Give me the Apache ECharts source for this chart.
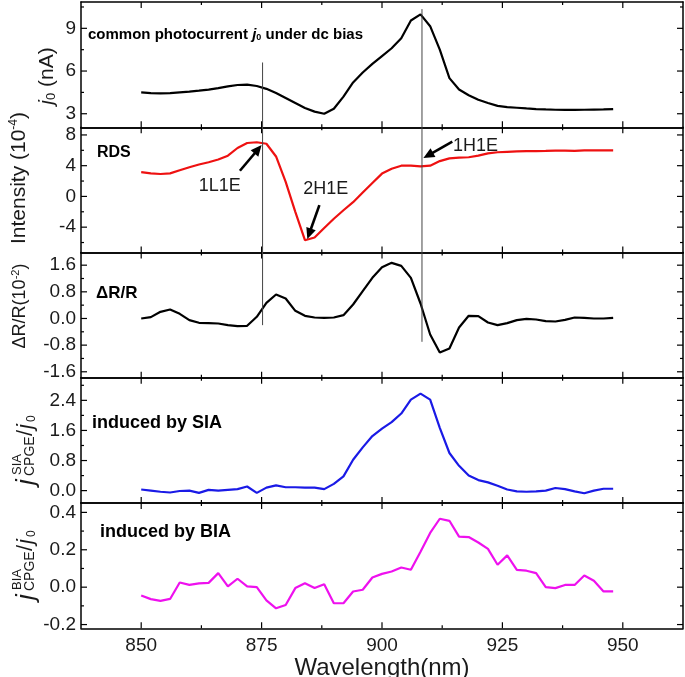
<!DOCTYPE html>
<html><head><meta charset="utf-8">
<script src="https://cdn.jsdelivr.net/npm/echarts@6/dist/echarts.min.js"></script>
<style>html,body{margin:0;padding:0;background:#fff}#c{width:685px;height:677px}</style>
</head><body><div id="c"></div>
<script>
// ---------------- data ----------------
const wavelength = [850,852,854,856,858,860,862,864,866,868,870,872,874,876,878,880,882,884,886,888,
  890,892,894,896,898,900,902,904,906,908,910,912,914,916,918,920,922,924,926,928,
  930,932,934,936,938,940,942,944,946,948];
const j0 = [4.5,4.45,4.43,4.45,4.5,4.55,4.62,4.7,4.8,4.92,5.02,5.05,4.95,4.75,4.45,4.1,3.75,3.4,3.15,3.0,
  3.35,4.2,5.2,5.9,6.5,7.05,7.6,8.3,9.55,9.98,9.15,7.5,5.5,4.7,4.3,3.98,3.75,3.55,3.47,3.42,
  3.37,3.33,3.3,3.28,3.27,3.27,3.28,3.29,3.3,3.33];
const rds = [3.15,3.0,2.92,3.0,3.4,3.8,4.15,4.45,4.8,5.3,6.3,6.95,7.05,6.85,5.2,1.9,-2.0,-5.7,-5.35,-4.1,
  -2.9,-1.8,-0.75,0.5,1.75,2.97,3.6,4.0,4.0,3.9,4.0,4.6,4.95,5.05,5.1,5.3,5.6,5.75,5.8,5.85,
  5.9,5.9,5.92,5.95,5.95,5.93,6.0,6.0,6.0,5.98];
const deltaRR = [0.0,0.04,0.2,0.27,0.14,-0.05,-0.13,-0.14,-0.15,-0.2,-0.23,-0.22,0.05,0.47,0.72,0.6,0.23,0.08,0.03,0.02,
  0.03,0.1,0.42,0.82,1.22,1.54,1.67,1.58,1.22,0.45,-0.48,-1.02,-0.9,-0.27,0.08,0.07,-0.12,-0.2,-0.14,-0.05,
  -0.01,-0.03,-0.08,-0.09,-0.04,0.03,0.02,0.0,0.0,0.02];
const sia = [0.03,0.0,-0.03,-0.05,-0.01,0.0,-0.06,0.02,0.0,0.02,0.04,0.11,-0.06,0.08,0.14,0.09,0.09,0.08,0.08,0.04,
  0.18,0.38,0.82,1.15,1.45,1.65,1.82,2.05,2.42,2.58,2.42,1.67,1.0,0.66,0.4,0.28,0.22,0.13,0.03,-0.02,
  -0.03,-0.02,0.0,0.07,0.04,-0.02,-0.07,0.0,0.05,0.05];
const bia = [-0.045,-0.064,-0.073,-0.063,0.025,0.012,0.02,0.023,0.075,0.004,0.045,0.004,0.0,-0.071,-0.113,-0.095,-0.005,0.021,-0.005,0.016,
  -0.086,-0.086,-0.023,-0.014,0.052,0.071,0.084,0.105,0.093,0.19,0.29,0.366,0.355,0.27,0.268,0.239,0.205,0.12,0.17,0.093,
  0.088,0.075,0.0,-0.005,0.012,0.012,0.062,0.034,-0.023,-0.023];

const xTicks = [850,875,900,925,950];
const xMinorTicks = [862.5,887.5,912.5,937.5];
const yTicksJ0 = [3,6,9], yMinorJ0 = [4.5,7.5,10.5];
const yTicksRDS = [-4,0,4,8], yMinorRDS = [-6,-2,2,6];
const yTicksDRR = [-1.6,-0.8,0,0.8,1.6], yMinorDRR = [-1.2,-0.4,0.4,1.2];
const yTicksSIA = [0,0.8,1.6,2.4], yMinorSIA = [0.4,1.2,2.0,2.8];
const yTicksBIA = [-0.2,0,0.2,0.4], yMinorBIA = [-0.1,0.1,0.3];

// vertical guide lines (nm) and annotation anchors (data coords)
const guideLines = [875.2, 908.3];
const arrowPairs = [[[870.5,3.34],[875.0,6.68]], [[887.0,-1.14],[884.5,-5.54]], [[914.6,7.12],[908.6,5.0]]];
const peakLabels = ['1L1E','2H1E','1H1E'];
const peakLabelAt = [[866.3,1.3],[888.3,1.0],[919.4,6.55]];

// ---------------- layout ----------------
const FONT = "'Liberation Sans', Arial, Helvetica, sans-serif";
const X_MIN = 837.5, X_MAX = 962.5;
const GL = 81, GW = 602, GT = 2, GH = 125.26;
const panels = [
  {data:j0, color:'#000000', range:[2.05,10.85], ticks:yTicksJ0, minor:yMinorJ0, dec:0},
  {data:rds, color:'#ee1111', range:[-7.3,9.0], ticks:yTicksRDS, minor:yMinorRDS, dec:0},
  {data:deltaRR, color:'#000000', range:[-1.78,1.98], ticks:yTicksDRR, minor:yMinorDRR, dec:1},
  {data:sia, color:'#1a1ae6', range:[-0.33,3.0], ticks:yTicksSIA, minor:yMinorSIA, dec:1},
  {data:bia, color:'#ee11ee', range:[-0.22,0.45], ticks:yTicksBIA, minor:yMinorBIA, dec:1}
];

const grid = [], xAxis = [], yAxis = [], series = [];
const axLine = () => ({show:true, onZero:false, lineStyle:{color:'#000', width:1.5}});
panels.forEach((p, i) => {
  grid.push({left:GL, width:GW, top:GT + i*GH, height:GH, show:false, containLabel:false, outerBoundsMode:'none'});
  const last = i === panels.length - 1;
  const mainX = xAxis.length;
  xAxis.push({gridIndex:i, type:'value', min:X_MIN, max:X_MAX, position:'bottom',
    axisLine:axLine(), splitLine:{show:false}, axisTick:{show:false},
    axisLabel:{show:last, customValues:xTicks, fontFamily:FONT, fontSize:19, color:'#1a1a1a', margin:8},
    name: last ? 'Wavelength(nm)' : '', nameLocation:'middle', nameGap:24,
    nameTextStyle:{fontFamily:FONT, fontSize:24, color:'#1a1a1a'}});
  xAxis.push({gridIndex:i, type:'value', min:X_MIN, max:X_MAX, position:'top',
    axisLine:axLine(), splitLine:{show:false}, axisTick:{show:false}, axisLabel:{show:false}});
  const mainY = yAxis.length;
  yAxis.push({gridIndex:i, type:'value', min:p.range[0], max:p.range[1], position:'left',
    axisLine:axLine(), splitLine:{show:false}, axisTick:{show:false},
    axisLabel:{show:true, customValues:p.ticks, fontFamily:FONT, fontSize:19, color:'#1a1a1a', margin:5,
      formatter: v => { const t = Math.abs(v) < 1e-9 ? 0 : v; return t.toFixed(p.dec); }}});
  yAxis.push({gridIndex:i, type:'value', min:p.range[0], max:p.range[1], position:'right',
    axisLine:axLine(), splitLine:{show:false}, axisTick:{show:false}, axisLabel:{show:false}});
  series.push({type:'line', xAxisIndex:mainX, yAxisIndex:mainY,
    data: wavelength.map((w, k) => [w, p.data[k]]),
    showSymbol:false, symbol:'none', smooth:false, animation:false, z:5,
    lineStyle:{width:2.2, color:p.color}, itemStyle:{color:p.color}});
});

const chart = echarts.init(document.getElementById('c'), null, {renderer:'canvas'});
chart.setOption({animation:false, backgroundColor:'#fff', grid, xAxis, yAxis, series});

// ---------------- overlay graphics ----------------
const toPx = (si, x, y) => chart.convertToPixel({seriesIndex:si}, [x, y]);
const g = [];
const seg = (x1, y1, x2, y2, w, c) => ({type:'line', silent:true, z:9, shape:{x1, y1, x2, y2}, style:{stroke:c||'#000', lineWidth:w||1.2}});
// inward ticks on all four sides of every panel (positions from the axes' scales)
panels.forEach((p, i) => {
  const lo = toPx(i, X_MIN, p.range[0]), hi = toPx(i, X_MAX, p.range[1]);
  const xl = lo[0], xr = hi[0], yb = lo[1], yt = hi[1];
  [[xTicks, 6], [xMinorTicks, 3]].forEach(([vals, len]) => vals.forEach(v => {
    const px = toPx(i, v, p.range[0])[0];
    g.push(seg(px, yb, px, yb - len));
    g.push(seg(px, yt, px, yt + len));
  }));
  [[p.ticks, 6], [p.minor, 3]].forEach(([vals, len]) => vals.forEach(v => {
    const py = toPx(i, X_MIN, v)[1];
    g.push(seg(xl, py, xl + len, py));
    g.push(seg(xr, py, xr - len, py));
  }));
});
// vertical guide lines
const guideSpan = [[6.6, -0.2], [10.35, -0.7]];
guideLines.forEach((x, k) => {
  const a = toPx(0, x, guideSpan[k][0]), b = toPx(2, x, guideSpan[k][1]);
  g.push(seg(a[0], a[1], b[0], b[1], 1, '#444'));
});
// arrows (in RDS panel coordinates)
arrowPairs.forEach(([a, b]) => {
  const p0 = toPx(1, a[0], a[1]), p1 = toPx(1, b[0], b[1]);
  const dx = p1[0]-p0[0], dy = p1[1]-p0[1], L = Math.hypot(dx, dy), ux = dx/L, uy = dy/L;
  const hl = 11, hw = 5;
  const bx = p1[0]-ux*hl, by = p1[1]-uy*hl;
  g.push({type:'line', silent:true, z:12, shape:{x1:p0[0], y1:p0[1], x2:bx+ux*2, y2:by+uy*2}, style:{stroke:'#000', lineWidth:2.6}});
  g.push({type:'polygon', silent:true, z:12, shape:{points:[[p1[0],p1[1]],[bx-uy*hw, by+ux*hw],[bx+uy*hw, by-ux*hw]]}, style:{fill:'#000'}});
});
// peak labels
peakLabels.forEach((t, k) => {
  const p = toPx(1, peakLabelAt[k][0], peakLabelAt[k][1]);
  g.push({type:'text', silent:true, z:11, x:p[0], y:p[1],
    style:{text:t, fontFamily:FONT, fontSize:18, fill:'#1a1a1a', align:'center', verticalAlign:'middle'}});
});
// panel titles
const bold = (txt, x, y, fs) => ({type:'text', silent:true, z:11, x, y,
  style:{text:txt, fontFamily:FONT, fontWeight:'bold', fontSize:fs, fill:'#000', align:'left', verticalAlign:'middle'}});
g.push({type:'text', silent:true, z:11, x:88, y:35, style:{
  text:'{a|common photocurrent }{j|j}{s|0}{a| under dc bias}', align:'left', verticalAlign:'middle',
  rich:{a:{fontFamily:FONT, fontWeight:'bold', fontSize:15, fill:'#000'},
        j:{fontFamily:FONT, fontWeight:'bold', fontStyle:'italic', fontSize:15, fill:'#000'},
        s:{fontFamily:FONT, fontWeight:'bold', fontSize:9, fill:'#000', padding:[6,0,0,0]}}}});
g.push(bold('RDS', 97, 153, 16));
g.push(bold('\u0394R/R', 96, 293, 17));
g.push(bold('induced by SIA', 92, 423, 18));
g.push(bold('induced by BIA', 100, 532, 18));

// rotated y-axis names
const rot = (x, y, children) => ({type:'group', x, y, rotation:Math.PI/2, silent:true, children});
const t = (text, x, y, fs, extra) => ({type:'text', x, y, style:Object.assign({text, fontFamily:FONT, fontSize:fs, fill:'#1a1a1a', align:'center', verticalAlign:'middle'}, extra||{})});
g.push(rot(47, 76, [{type:'text', x:0, y:0, style:{text:'{j|j}{s|0}{a| (nA)}', align:'center', verticalAlign:'middle',
  rich:{a:{fontFamily:FONT, fontSize:21, fill:'#1a1a1a'}, j:{fontFamily:FONT, fontStyle:'italic', fontSize:21, fill:'#1a1a1a'},
        s:{fontFamily:FONT, fontSize:13, fill:'#1a1a1a', padding:[8,0,0,0]}}}}]));
g.push(rot(19, 178, [{type:'text', x:0, y:0, style:{text:'{a|Intensity (10}{s|-4}{a|)}', align:'center', verticalAlign:'middle',
  rich:{a:{fontFamily:FONT, fontSize:21, fill:'#1a1a1a'}, s:{fontFamily:FONT, fontSize:12, fill:'#1a1a1a', padding:[0,0,10,0]}}}}]));
g.push(rot(20, 306, [{type:'text', x:0, y:0, style:{text:'{a|\u0394R/R(10}{s|-2}{a|)}', align:'center', verticalAlign:'middle',
  rich:{a:{fontFamily:FONT, fontSize:18, fill:'#1a1a1a'}, s:{fontFamily:FONT, fontSize:11, fill:'#1a1a1a', padding:[0,0,9,0]}}}}]));
const cpge = (sup, cy) => rot(26, cy, [
  t('j', -40, 1, 26, {fontStyle:'italic', align:'left'}),
  t(sup, -30, -9, 13, {align:'left'}),
  t('CPGE', -31, 4, 14, {align:'left'}),
  t('/', 9, 0, 22, {align:'left'}),
  t('j', 16, 0, 22, {fontStyle:'italic', align:'left'}),
  t('0', 23, 6, 12, {align:'left'})
]);
g.push(cpge('SIA', 445));
g.push(cpge('BIA', 560));

chart.setOption({graphic:g});
</script></body></html>
